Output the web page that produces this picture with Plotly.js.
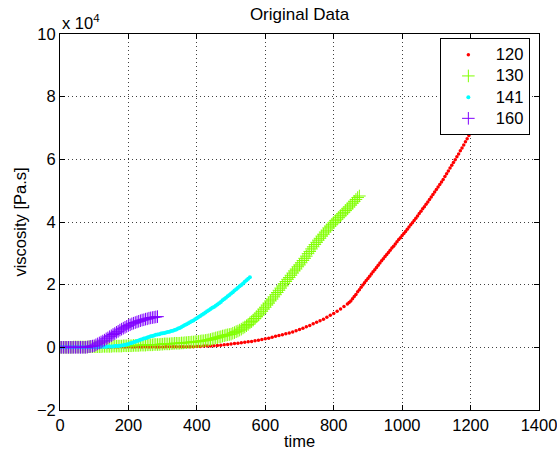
<!DOCTYPE html>
<html>
<head>
<meta charset="utf-8">
<script src="https://cdn.plot.ly/plotly-3.0.1.min.js"></script>
<style>html,body{margin:0;padding:0;background:#fff;}#chart{width:557px;height:454px;}</style>
</head>
<body>
<div id="chart"></div>
<script>
// viscosity values are in units of 10^4 Pa.s
const seriesNames = ['120', '130', '141', '160'];

const t120 = [0,10,20,30,40,50,60,70,80,90,100,110,120,130,140,150,160,170,180,190,200,210,220,230,240,250,260,270,280,290,300,310,320,330,340,350,360,370,380,390,400,410,420,430,440,450,460,470,480,490,500,510,520,530,540,550,560,570,580,590,600,610,620,630,640,650,660,670,680,690,700,710,720,730,740,750,760,770,780,790,800,810,820,830,840,
845,850,855,860,865,870,875,880,885,890,895,900,905,910,915,920,925,930,935,940,945,950,955,960,965,970,975,980,985,990,995,1000,1005,1010,1015,1020,1025,1030,1035,1040,1045,1050,1055,1060,1065,1070,1075,1080,1085,1090,1095,1100,1105,1110,1115,1120,1125,1130,1135,1140,1145,1150,1155,1160,1165,1170,1175,1180,1185,1190,1195,1200,1205,1210,1215,1220,1225,1230,1235,1240,1245,1250,1255,1260,1265,1270];
const v120 = [0.00,0.00,0.00,0.00,0.00,0.00,0.00,0.00,0.00,0.00,0.00,0.00,0.00,0.00,0.00,0.00,0.01,0.01,0.01,0.01,0.01,0.01,0.01,0.01,0.01,0.01,0.01,0.01,0.01,0.01,0.01,0.02,0.02,0.02,0.02,0.02,0.02,0.02,0.02,0.02,0.03,0.03,0.04,0.04,0.04,0.05,0.06,0.07,0.08,0.09,0.11,0.12,0.13,0.15,0.16,0.18,0.19,0.21,0.23,0.25,0.27,0.29,0.32,0.35,0.38,0.40,0.43,0.46,0.49,0.53,0.57,0.61,0.66,0.70,0.75,0.80,0.85,0.90,0.96,1.02,1.08,1.15,1.22,1.30,1.38,
1.43,1.48,1.55,1.62,1.69,1.77,1.84,1.92,1.99,2.06,2.13,2.20,2.27,2.34,2.41,2.48,2.55,2.62,2.69,2.76,2.83,2.90,2.96,3.03,3.10,3.17,3.23,3.30,3.37,3.44,3.50,3.57,3.63,3.70,3.77,3.84,3.91,3.98,4.05,4.12,4.19,4.27,4.34,4.42,4.49,4.57,4.64,4.72,4.80,4.88,4.96,5.04,5.12,5.20,5.28,5.36,5.45,5.54,5.63,5.72,5.81,5.90,5.99,6.08,6.17,6.27,6.36,6.46,6.56,6.66,6.76,6.86,6.96,7.06,7.16,7.26,7.36,7.46,7.56,7.66,7.76,7.86,7.96,8.06,8.16,8.26];

const t130 = [0,5,10,15,20,25,30,35,40,45,50,55,60,65,70,75,80,85,90,95,100,105,110,115,120,125,130,135,140,145,150,155,160,165,170,175,180,185,190,195,200,205,210,215,220,225,230,235,240,245,250,255,260,265,270,275,280,285,290,295,300,305,310,315,320,325,330,335,340,345,350,355,360,365,370,375,380,385,390,395,400,405,410,415,420,425,430,435,440,445,450,455,460,465,470,475,480,485,490,495,500,505,510,515,520,525,530,535,540,545,550,555,560,565,570,575,580,585,590,595,600,605,610,615,620,625,630,635,640,645,650,655,660,665,670,675,680,685,690,695,700,705,710,715,720,725,730,735,740,745,750,755,760,765,770,775,780,785,790,795,800,805,810,815,820,825,830,835,840,845,850,855,860,865,870,875];
const v130 = [0.00,0.00,0.00,0.00,0.00,0.00,0.00,0.00,0.01,0.01,0.01,0.01,0.01,0.01,0.01,0.01,0.01,0.02,0.02,0.02,0.02,0.02,0.02,0.02,0.02,0.03,0.03,0.03,0.03,0.03,0.03,0.04,0.04,0.04,0.04,0.04,0.04,0.05,0.05,0.05,0.05,0.05,0.05,0.06,0.06,0.06,0.06,0.07,0.07,0.07,0.07,0.08,0.08,0.08,0.08,0.09,0.09,0.09,0.09,0.10,0.10,0.11,0.11,0.11,0.11,0.12,0.12,0.13,0.13,0.13,0.13,0.14,0.14,0.15,0.15,0.16,0.16,0.17,0.17,0.18,0.18,0.19,0.20,0.21,0.21,0.22,0.23,0.24,0.25,0.27,0.28,0.30,0.31,0.33,0.34,0.36,0.37,0.39,0.40,0.41,0.42,0.45,0.47,0.50,0.52,0.55,0.58,0.62,0.65,0.69,0.73,0.78,0.82,0.87,0.92,0.98,1.03,1.09,1.15,1.22,1.28,1.35,1.41,1.48,1.54,1.61,1.68,1.75,1.82,1.89,1.96,2.03,2.10,2.17,2.23,2.30,2.37,2.44,2.50,2.57,2.63,2.70,2.77,2.84,2.91,2.99,3.06,3.14,3.21,3.28,3.35,3.42,3.48,3.55,3.61,3.68,3.74,3.81,3.87,3.93,3.98,4.04,4.09,4.15,4.20,4.26,4.31,4.37,4.42,4.48,4.54,4.60,4.66,4.72,4.78,4.83];

const t141 = [0,5,10,15,20,25,30,35,40,45,50,55,60,65,70,75,80,85,90,95,100,105,110,115,120,125,130,135,140,145,150,155,160,165,170,175,180,185,190,195,200,205,210,215,220,225,230,235,240,245,250,255,260,265,270,275,280,285,290,295,300,305,310,315,320,325,330,335,340,345,350,355,360,365,370,375,380,385,390,395,400,405,410,415,420,425,430,435,440,445,450,455,460,465,470,475,480,485,490,495,500,505,510,515,520,525,530,535,540,545,550,555];
const v141 = [0.00,0.00,0.00,0.00,0.00,0.00,0.00,0.00,0.00,0.00,0.00,0.00,0.00,0.00,0.00,0.00,0.00,0.00,0.01,0.01,0.01,0.01,0.01,0.02,0.02,0.02,0.02,0.02,0.03,0.03,0.03,0.03,0.04,0.04,0.04,0.05,0.06,0.07,0.08,0.09,0.11,0.13,0.14,0.16,0.18,0.20,0.22,0.24,0.26,0.28,0.29,0.31,0.33,0.35,0.36,0.38,0.40,0.41,0.42,0.44,0.45,0.46,0.47,0.49,0.50,0.52,0.53,0.55,0.57,0.60,0.62,0.65,0.68,0.71,0.74,0.77,0.80,0.83,0.86,0.90,0.93,0.97,1.00,1.04,1.07,1.11,1.15,1.18,1.22,1.26,1.29,1.33,1.37,1.41,1.45,1.50,1.54,1.58,1.63,1.67,1.72,1.76,1.81,1.85,1.90,1.95,1.99,2.04,2.09,2.14,2.19,2.24];

const t160 = [0,5,10,15,20,25,30,35,40,45,50,55,60,65,70,75,80,85,90,95,100,105,110,115,120,125,130,135,140,145,150,155,160,165,170,175,180,185,190,195,200,205,210,215,220,225,230,235,240,245,250,255,260,265,270,275,280,285];
const v160 = [0.00,0.00,0.00,0.00,0.00,0.00,0.00,0.00,0.00,0.00,0.00,0.00,0.00,0.00,0.00,0.00,0.01,0.02,0.03,0.04,0.05,0.08,0.11,0.14,0.17,0.20,0.23,0.27,0.30,0.34,0.37,0.41,0.44,0.48,0.51,0.55,0.58,0.61,0.64,0.67,0.70,0.72,0.75,0.77,0.79,0.81,0.83,0.85,0.87,0.88,0.90,0.91,0.93,0.94,0.95,0.96,0.97,0.98];

const xTicks = [0,200,400,600,800,1000,1200,1400];
const yTicks = [-2,0,2,4,6,8,10];

const FONT = 'Liberation Sans, Arial, Helvetica, sans-serif';
const FS = 16.5;

function legendName(n) { return '<span style="font-size:' + FS + 'px">' + n + '</span>'; }
function dotTrace(x, y, name, color, size) {
  return {x: x, y: y, name: legendName(name), type: 'scatter', mode: 'markers',
    marker: {symbol: 'circle', size: size, color: color, line: {width: 0}}};
}
function plusTrace(x, y, name, color) {
  return {x: x, y: y, name: legendName(name), type: 'scatter', mode: 'markers',
    marker: {symbol: 'cross-thin-open', size: 9, color: color, line: {width: 1, color: color}}};
}

const data = [
  dotTrace(t120, v120, seriesNames[0], '#ff0000', 3.5),
  plusTrace(t130, v130, seriesNames[1], '#80ff00'),
  dotTrace(t141, v141, seriesNames[2], '#00ffff', 4),
  plusTrace(t160, v160, seriesNames[3], '#8000ff')
];

const axisCommon = {
  showline: true, linecolor: '#000', linewidth: 1, mirror: 'allticks',
  ticks: 'inside', ticklen: 5, tickcolor: '#000', tickwidth: 1,
  showgrid: true, gridcolor: 'rgba(0,0,0,0.75)', gridwidth: 1, griddash: '1px,3px',
  zeroline: false, ticklabeloverflow: 'allow',
  tickfont: {family: FONT, size: FS, color: '#000'}
};

const layout = {
  width: 557, height: 454,
  margin: {l: 60, r: 18, t: 34, b: 44},
  paper_bgcolor: '#fff', plot_bgcolor: '#fff',
  font: {family: FONT, size: FS, color: '#000'},
  title: {text: 'Original Data', font: {family: FONT, size: 17, color: '#000'},
    x: 0.5, xref: 'paper', xanchor: 'center', y: 1 - 14/454, yanchor: 'middle'},
  xaxis: Object.assign({}, axisCommon, {
    range: [0, 1400], tickvals: xTicks, ticktext: xTicks.map(String),
    title: {text: 'time', font: {family: FONT, size: FS, color: '#000'}, standoff: 2}
  }),
  yaxis: Object.assign({}, axisCommon, {
    range: [-2, 10], tickvals: yTicks, ticktext: yTicks.map(v => v < 0 ? '\u2212' + Math.abs(v) : String(v)),
    title: {text: 'viscosity [Pa.s]', font: {family: FONT, size: FS, color: '#000'}, standoff: 6}
  }),
  showlegend: true,
  legend: {x: 0.793, xanchor: 'left', y: 0.989, yanchor: 'top',
    bgcolor: '#fff', bordercolor: '#000', borderwidth: 1,
    font: {family: FONT, size: 14, color: '#000'}, itemwidth: 45, tracegroupgap: 0},
  annotations: [{text: 'x 10<sup>4</sup>', xref: 'paper', yref: 'paper', x: 0, y: 1,
    xanchor: 'left', yanchor: 'bottom', showarrow: false, yshift: 0,
    font: {family: FONT, size: FS, color: '#000'}}]
};

Plotly.newPlot('chart', data, layout, {staticPlot: true, displayModeBar: false});
</script>
</body>
</html>
